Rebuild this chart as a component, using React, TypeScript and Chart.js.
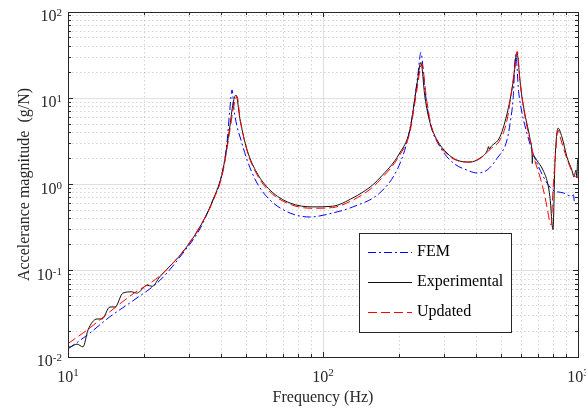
import React, { useEffect, useRef } from "react";
import { Chart, registerables } from "chart.js";

Chart.register(...registerables);

// ---------- data ----------
const femFreq = [10, 12, 14.6, 18, 22.9, 28, 33, 37, 39.4, 42, 43.1, 44, 44.8, 46.1, 47.3, 50.4, 55.1, 62, 74.2, 88.9, 109, 131, 167, 195, 213, 225, 236, 242, 251, 263, 288, 324, 367, 402, 440, 481, 527, 545, 556, 570, 585, 603, 631, 666, 710, 756, 798, 874, 946, 960, 970, 1000];
const femVal = [0.0124, 0.0183, 0.0293, 0.045, 0.077, 0.155, 0.31, 0.66, 1.05, 3.0, 7.3, 12.5, 7.3, 4.6, 3.55, 1.92, 1.04, 0.66, 0.467, 0.42, 0.467, 0.55, 0.8, 1.47, 3.03, 6.75, 19.6, 34, 12.5, 5.2, 2.72, 1.78, 1.47, 1.36, 1.47, 2.0, 3.3, 5.8, 9.5, 32, 12, 6.8, 3.9, 2.3, 1.47, 1.04, 0.86, 0.8, 0.73, 0.76, 0.6, 0.6];

const expFreq = [10, 10.2, 10.85, 11.45, 11.98, 13.0, 13.6, 14.6, 15.3, 16.4, 17.8, 18.6, 19.2, 20.4, 21.4, 22.9, 25.8, 28.2, 32.9, 37.0, 40.5, 43.1, 44.4, 45.6, 47.3, 50.4, 55.1, 62.0, 74.2, 91.4, 109, 131, 153, 167, 200, 219, 234, 242, 251, 263, 280, 306, 335, 377, 413, 440, 446, 449, 452, 495, 531, 556, 576, 592, 603, 620, 648, 660, 662, 664, 688, 729, 760, 776, 798, 812, 835, 865, 905, 946, 964, 982, 990, 995, 1000];
const expVal = [0.013, 0.0131, 0.0141, 0.0131, 0.0206, 0.0276, 0.0276, 0.038, 0.038, 0.055, 0.057, 0.055, 0.058, 0.068, 0.066, 0.085, 0.123, 0.165, 0.322, 0.66, 1.47, 4.64, 8.8, 10.9, 5.6, 2.51, 1.36, 0.86, 0.61, 0.55, 0.56, 0.7, 0.935, 1.19, 2.32, 4.28, 15, 26, 10.3, 5.17, 3.28, 2.32, 1.92, 1.82, 2.03, 2.45, 2.75, 2.55, 2.65, 3.6, 7.3, 15, 34, 16.3, 10.3, 6.4, 3.4, 2.3, 1.75, 2.2, 1.92, 1.47, 1.04, 0.72, 0.3, 1.78, 4.5, 3.55, 2.08, 1.47, 1.22, 1.47, 1.2, 1.78, 2.0];

const updFreq = [10, 12, 14.6, 18, 22.9, 28, 33, 37, 40.5, 43.1, 44.6, 46.0, 47.3, 50.4, 55.1, 62, 74.2, 91, 109, 131, 153, 167, 200, 219, 234, 244, 255, 265, 280, 306, 335, 377, 413, 452, 495, 527, 556, 566, 578, 592, 620, 648, 677, 710, 742, 760, 776, 785, 795, 812, 835, 850, 890, 930, 955, 990, 1000];
const updVal = [0.0143, 0.021, 0.0335, 0.054, 0.087, 0.162, 0.33, 0.64, 1.4, 4.2, 8.0, 10.5, 5.8, 2.45, 1.3, 0.82, 0.59, 0.53, 0.54, 0.66, 0.88, 1.12, 2.2, 4.0, 13, 25, 9.5, 5.0, 3.2, 2.25, 1.9, 1.82, 2.0, 2.55, 3.3, 5.6, 16, 23, 35, 16, 6.1, 3.3, 1.9, 1.22, 0.72, 0.5, 0.36, 0.34, 0.7, 1.78, 4.28, 3.6, 2.3, 1.6, 1.36, 1.2, 1.2];

const seriesNames = ["FEM", "Experimental", "Updated"];
const xMajorTicks = [10, 100, 1000];
const xTickExps = ["1", "2", "3"];
const yMajorTicks = [0.01, 0.1, 1, 10, 100];
const yTickExps = ["-2", "-1", "0", "1", "2"];
const xTitle = "Frequency (Hz)";
const yTitle = "Accelerance magnitude  (g/N)";

// ---------- styles ----------
const FONT = '"Liberation Serif", "Times New Roman", serif';
const AXIS_COLOR = "#262626";
const FEM_COLOR = "#0000ff";
const EXP_COLOR = "#111111";
const UPD_COLOR = "#ff0000";
const FEM_DASH = [8, 3, 2, 3];
const UPD_DASH = [9, 4];

const toPoints = (fx: number[], fy: number[]) => fx.map((f, i) => ({ x: f, y: fy[i] }));

const minorValues = (majors: number[]) => {
  const out: number[] = [];
  for (let i = 0; i < majors.length - 1; i++) {
    for (let k = 2; k <= 9; k++) out.push(majors[i] * k);
  }
  return out;
};

const al = (v: number) => Math.floor(v) + 0.5;

const framePlugin = {
  id: "matlabFrame",
  beforeDatasetsDraw(chart: any) {
    const { ctx, chartArea, scales } = chart;
    const { left, right, top, bottom } = chartArea;
    const xs = scales.x;
    const ys = scales.y;
    ctx.save();
    ctx.lineWidth = 1;
    // minor grid (dotted)
    ctx.strokeStyle = "rgba(0,0,0,0.17)";
    ctx.setLineDash([1.5, 2.5]);
    for (const v of minorValues(xMajorTicks)) {
      const p = al(xs.getPixelForValue(v));
      ctx.beginPath();
      ctx.moveTo(p, top);
      ctx.lineTo(p, bottom);
      ctx.stroke();
    }
    for (const v of minorValues(yMajorTicks)) {
      const p = al(ys.getPixelForValue(v));
      ctx.beginPath();
      ctx.moveTo(left, p);
      ctx.lineTo(right, p);
      ctx.stroke();
    }
    // major grid (solid, light)
    ctx.setLineDash([]);
    ctx.strokeStyle = "rgba(0,0,0,0.12)";
    for (const v of xMajorTicks) {
      const p = al(xs.getPixelForValue(v));
      ctx.beginPath();
      ctx.moveTo(p, top);
      ctx.lineTo(p, bottom);
      ctx.stroke();
    }
    for (const v of yMajorTicks) {
      const p = al(ys.getPixelForValue(v));
      ctx.beginPath();
      ctx.moveTo(left, p);
      ctx.lineTo(right, p);
      ctx.stroke();
    }
    ctx.restore();
  },
  afterDatasetsDraw(chart: any) {
    const { ctx, chartArea, scales } = chart;
    const { left, right, top, bottom } = chartArea;
    const xs = scales.x;
    const ys = scales.y;
    ctx.save();
    ctx.setLineDash([]);
    ctx.lineWidth = 1;
    ctx.strokeStyle = AXIS_COLOR;
    // box
    ctx.strokeRect(al(left), al(top), Math.round(right - left), Math.round(bottom - top));
    // ticks
    const drawXTick = (v: number, len: number) => {
      const p = al(xs.getPixelForValue(v));
      ctx.beginPath();
      ctx.moveTo(p, bottom);
      ctx.lineTo(p, bottom - len);
      ctx.moveTo(p, top);
      ctx.lineTo(p, top + len);
      ctx.stroke();
    };
    const drawYTick = (v: number, len: number) => {
      const p = al(ys.getPixelForValue(v));
      ctx.beginPath();
      ctx.moveTo(left, p);
      ctx.lineTo(left + len, p);
      ctx.moveTo(right, p);
      ctx.lineTo(right - len, p);
      ctx.stroke();
    };
    xMajorTicks.forEach((v) => drawXTick(v, 5));
    minorValues(xMajorTicks).forEach((v) => drawXTick(v, 3));
    yMajorTicks.forEach((v) => drawYTick(v, 5));
    minorValues(yMajorTicks).forEach((v) => drawYTick(v, 3));

    // tick labels
    ctx.fillStyle = "#262626";
    ctx.textBaseline = "alphabetic";
    const baseFont = `16px ${FONT}`;
    const expFont = `11px ${FONT}`;
    xMajorTicks.forEach((v, i) => {
      const p = xs.getPixelForValue(v);
      ctx.font = baseFont;
      const bw = ctx.measureText("10").width;
      ctx.font = expFont;
      const ew = ctx.measureText(xTickExps[i]).width;
      const x0 = p - (bw + ew) / 2;
      ctx.textAlign = "left";
      ctx.font = baseFont;
      ctx.fillText("10", x0, bottom + 25);
      ctx.font = expFont;
      ctx.fillText(xTickExps[i], x0 + bw, bottom + 19);
    });
    yMajorTicks.forEach((v, i) => {
      const p = ys.getPixelForValue(v);
      ctx.font = expFont;
      const ew = ctx.measureText(yTickExps[i]).width;
      const xr = left - 6;
      ctx.textAlign = "right";
      ctx.fillText(yTickExps[i], xr, p + 4);
      ctx.font = baseFont;
      ctx.fillText("10", xr - ew, p + 9);
    });

    // axis titles
    ctx.fillStyle = "#262626";
    ctx.font = `16px ${FONT}`;
    ctx.textAlign = "center";
    ctx.textBaseline = "alphabetic";
    ctx.fillText(xTitle, (left + right) / 2, bottom + 45);
    ctx.save();
    ctx.translate(29, (top + bottom) / 2);
    ctx.rotate(-Math.PI / 2);
    ctx.fillText(yTitle, 0, 0);
    ctx.restore();

    // legend
    const lx = 359, ly = 233, lw = 152, lh = 99;
    ctx.fillStyle = "#ffffff";
    ctx.fillRect(lx, ly, lw, lh);
    ctx.strokeStyle = AXIS_COLOR;
    ctx.lineWidth = 1;
    ctx.strokeRect(lx + 0.5, ly + 0.5, lw, lh);
    const colors = [FEM_COLOR, EXP_COLOR, UPD_COLOR];
    const dashes = [FEM_DASH, [], UPD_DASH];
    seriesNames.forEach((name, i) => {
      const yy = ly + 19 + i * 30;
      ctx.strokeStyle = colors[i];
      ctx.setLineDash(dashes[i]);
      ctx.beginPath();
      ctx.moveTo(lx + 9, yy + 0.5);
      ctx.lineTo(lx + 53, yy + 0.5);
      ctx.stroke();
      ctx.setLineDash([]);
      ctx.fillStyle = "#000000";
      ctx.font = `16px ${FONT}`;
      ctx.textAlign = "left";
      ctx.textBaseline = "middle";
      ctx.fillText(name, lx + 58, yy);
    });
    ctx.restore();
  },
};

export default function App() {
  const ref = useRef<HTMLCanvasElement | null>(null);
  useEffect(() => {
    document.body.style.margin = "0";
    const canvas = ref.current!;
    const common = {
      borderWidth: 1,
      pointRadius: 0,
      cubicInterpolationMode: "monotone",
    };
    const chart = new Chart(canvas, {
      type: "line",
      data: {
        datasets: [
          {
            ...common,
            label: seriesNames[0],
            data: toPoints(femFreq, femVal),
            borderColor: FEM_COLOR,
            borderDash: FEM_DASH,
            order: 3,
          },
          {
            ...common,
            label: seriesNames[1],
            data: toPoints(expFreq, expVal),
            borderColor: EXP_COLOR,
            order: 2,
          },
          {
            ...common,
            label: seriesNames[2],
            data: toPoints(updFreq, updVal),
            borderColor: UPD_COLOR,
            borderDash: UPD_DASH,
            order: 1,
          },
        ],
      } as any,
      options: {
        responsive: false,
        animation: false,
        devicePixelRatio: 1,
        layout: { padding: { left: 68, right: 8, top: 12, bottom: 54 } },
        plugins: { legend: { display: false }, tooltip: { enabled: false } },
        events: [],
        scales: {
          x: { type: "logarithmic", min: 10, max: 1000, display: false },
          y: { type: "logarithmic", min: 0.01, max: 100, display: false },
        },
      } as any,
      plugins: [framePlugin as any],
    });
    return () => chart.destroy();
  }, []);
  return (
    <div style={{ position: "relative", width: 586, height: 411 }}>
      <canvas ref={ref} width={586} height={411} style={{ display: "block" }} />
    </div>
  );
}
